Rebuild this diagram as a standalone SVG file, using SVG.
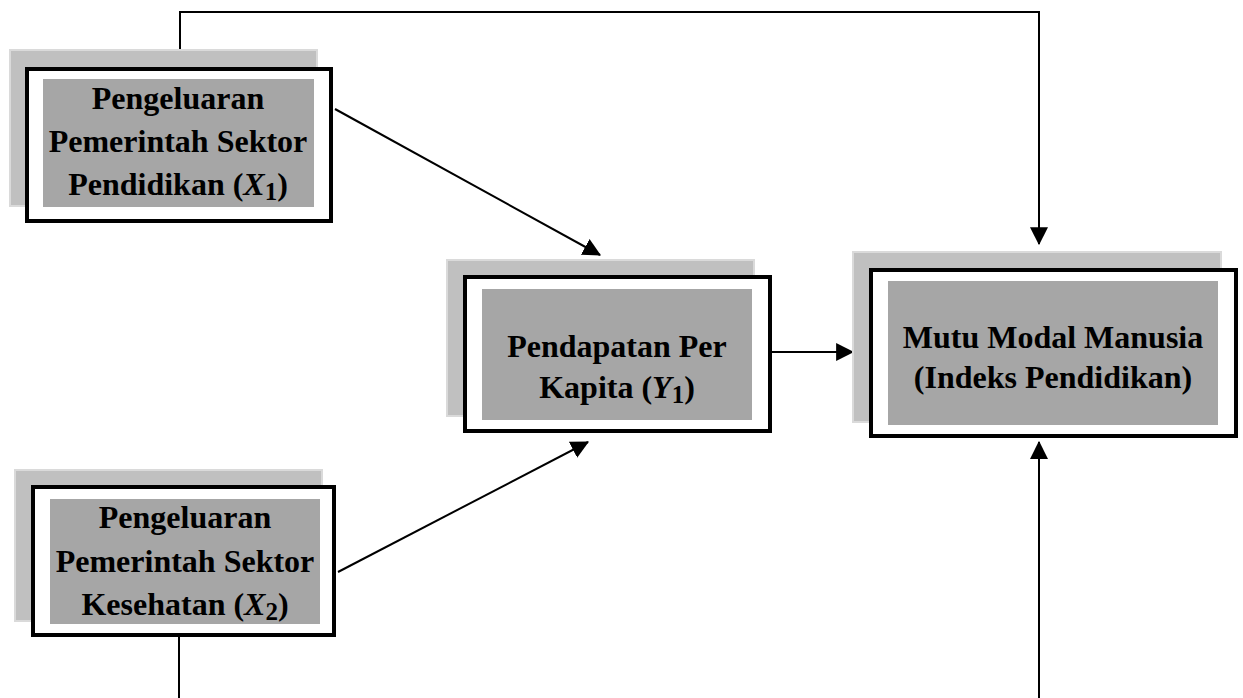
<svg xmlns="http://www.w3.org/2000/svg" width="1243" height="698" viewBox="0 0 1243 698">
<style>
.shadow{fill:#c0c0c0;stroke:#dadada;stroke-width:2}
.frame{fill:#ffffff;stroke:#000000;stroke-width:4}
.inner{fill:#a6a6a6;stroke:none}
.lbl{font-family:"Liberation Serif","Times New Roman",serif;font-weight:bold;font-size:32px;fill:#000;text-anchor:middle}
.mi{font-style:italic}
.sub{font-size:25px}
.conn{fill:none;stroke:#000;stroke-width:2}
</style>
<defs>
<marker id="arr" markerUnits="userSpaceOnUse" markerWidth="18" markerHeight="18" viewBox="0 0 16 16" refX="15" refY="8" orient="auto">
<path d="M0,0 L16,8 L0,16 Z" fill="#000"/>
</marker>
</defs>
<rect width="1243" height="698" fill="#ffffff"/>
<g id="connectors">
<polyline class="conn" points="180,67 180,12 1039,12 1039,244" marker-end="url(#arr)"/>
<line class="conn" x1="335" y1="109" x2="600" y2="255" marker-end="url(#arr)"/>
<line class="conn" x1="338" y1="572" x2="588" y2="442" marker-end="url(#arr)"/>
<line class="conn" x1="772" y1="352" x2="853" y2="352" marker-end="url(#arr)"/>
<line class="conn" x1="179" y1="637" x2="179" y2="698"/>
<line class="conn" x1="1039" y1="698" x2="1039" y2="442" marker-end="url(#arr)"/>
</g>
<g id="node-x1">
<rect class="shadow" x="10" y="50" width="307" height="156"/>
<rect class="frame" x="27" y="69" width="304" height="152"/>
<rect class="inner" x="43" y="79" width="271" height="128"/>
<text class="lbl" x="178" y="109">Pengeluaran</text>
<text class="lbl" x="178" y="152">Pemerintah Sektor</text>
<text class="lbl" x="178" y="195">Pendidikan (<tspan class="mi">X</tspan><tspan class="sub" dy="5">1</tspan><tspan dy="-5">)</tspan></text>
</g>
<g id="node-y1">
<rect class="shadow" x="447" y="260" width="307" height="156"/>
<rect class="frame" x="465" y="277" width="305" height="154"/>
<rect class="inner" x="482" y="289" width="270" height="131"/>
<text class="lbl" x="617" y="357">Pendapatan Per</text>
<text class="lbl" x="617" y="398">Kapita (<tspan class="mi">Y</tspan><tspan class="sub" dy="5">1</tspan><tspan dy="-5">)</tspan></text>
</g>
<g id="node-mutu">
<rect class="shadow" x="853" y="252" width="368" height="170"/>
<rect class="frame" x="871" y="270" width="365" height="166"/>
<rect class="inner" x="888" y="281" width="330" height="144"/>
<text class="lbl" x="1053" y="348">Mutu Modal Manusia</text>
<text class="lbl" x="1053" y="388">(Indeks Pendidikan)</text>
</g>
<g id="node-x2">
<rect class="shadow" x="15" y="470" width="307" height="151"/>
<rect class="frame" x="33" y="487" width="301" height="148"/>
<rect class="inner" x="50" y="499" width="270" height="125"/>
<text class="lbl" x="185" y="528">Pengeluaran</text>
<text class="lbl" x="185" y="572">Pemerintah Sektor</text>
<text class="lbl" x="185" y="615">Kesehatan (<tspan class="mi">X</tspan><tspan class="sub" dy="5">2</tspan><tspan dy="-5">)</tspan></text>
</g>
</svg>
